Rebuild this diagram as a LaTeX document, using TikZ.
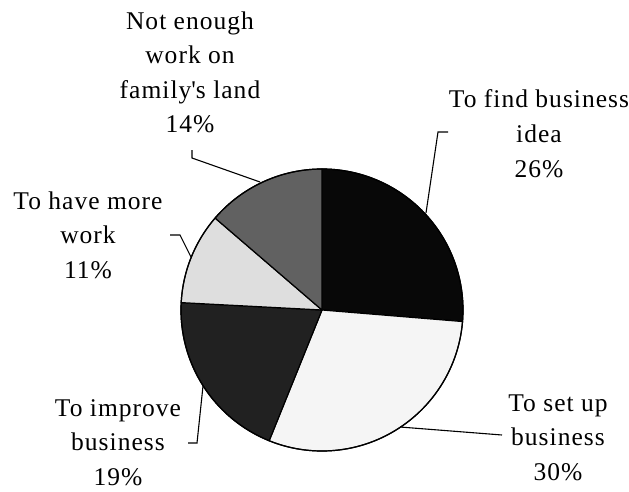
\documentclass[tikz,border=0pt]{standalone}
\usepackage{fontspec}
\setmainfont{Liberation Serif}[LetterSpace=4]
\begin{document}
\begin{tikzpicture}[x=1pt,y=1pt,
  slice/.style={draw=black,line width=1.2pt,line join=round},
  leader/.style={draw=black,line width=1.1pt},
  lab/.style={align=center,inner sep=0pt,anchor=base,font=\fontsize{25.5}{34.5}\selectfont}]
\useasboundingbox (0,0) rectangle (629,491);
\coordinate (c) at (322,181);
\def\R{141}
\fill[fill=black!97,slice] (c) -- ++(90:\R) arc[start angle=90,end angle=-4.7,radius=\R] -- cycle;
\fill[fill=black!4,slice] (c) -- ++(-4.7:\R) arc[start angle=-4.7,end angle=-112,radius=\R] -- cycle;
\fill[fill=black!87,slice] (c) -- ++(-112:\R) arc[start angle=-112,end angle=-183,radius=\R] -- cycle;
\fill[fill=black!13,slice] (c) -- ++(177:\R) arc[start angle=177,end angle=139.3,radius=\R] -- cycle;
\fill[fill=black!62,slice] (c) -- ++(139.3:\R) arc[start angle=139.3,end angle=90,radius=\R] -- cycle;
\draw[slice] (c) circle[radius=\R];

\node[lab] (lE) at (190,358) {Not enough\\work on\\family\textquotesingle s land\\14\%};
\node[lab] (lD) at (88,213) {To have more\\work\\11\%};
\node[lab] (lA) at (539,314) {To find business\\idea\\26\%};
\node[lab] (lC) at (118,6) {To improve\\business\\19\%};
\node[lab] (lB) at (558,11) {To set up\\business\\30\%};

\coordinate (eE1) at (192,341); \coordinate (eE2) at (192,333); \coordinate (eE3) at (260,309);
\coordinate (eD1) at (170,256); \coordinate (eD2) at (180,256); \coordinate (eD3) at (191,234);
\coordinate (eA1) at (448,359); \coordinate (eA2) at (438,359); \coordinate (eA3) at (426,278);
\coordinate (eC1) at (188,48); \coordinate (eC2) at (197,48); \coordinate (eC3) at (203,105);
\coordinate (eB1) at (502,56); \coordinate (eB3) at (400,64);
\draw[leader] (eE1) -- (eE2) -- (eE3);
\draw[leader] (eD1) -- (eD2) -- (eD3);
\draw[leader] (eA1) -- (eA2) -- (eA3);
\draw[leader] (eC1) -- (eC2) -- (eC3);
\draw[leader] (eB1) -- (eB3);
\end{tikzpicture}
\end{document}
